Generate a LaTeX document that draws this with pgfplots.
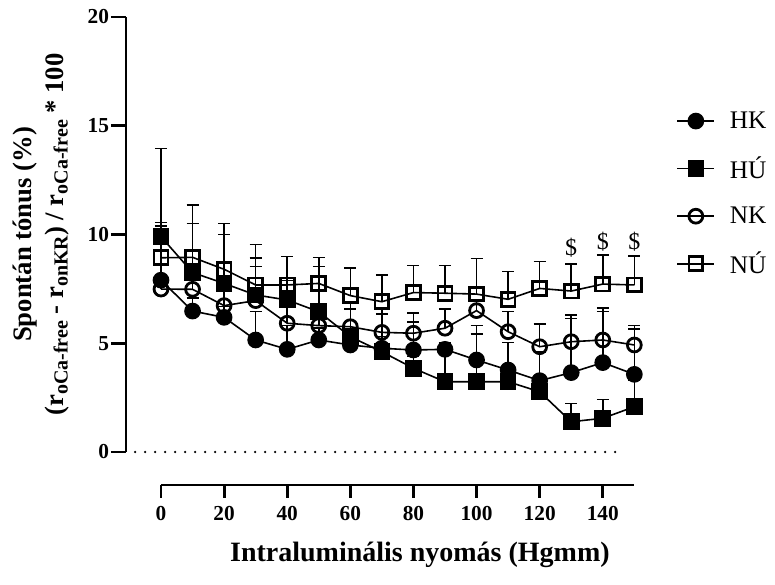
\documentclass[border=0pt]{standalone}
\usepackage{fontspec}
\setmainfont{Liberation Serif}
\usepackage{pgfplots}
\usepackage{pgfplotstable}
\pgfplotsset{compat=1.18}

% x  mean  upper SEM
\pgfplotstableread{
x y e
0 7.90 2.49
10 6.48 0.60
20 6.19 0.50
30 5.15 1.30
40 4.72 1.10
50 5.15 0.55
60 4.92 0.60
70 4.77 0.53
80 4.69 1.29
90 4.72 0.30
100 4.23 1.58
110 3.77 1.26
120 3.28 1.32
130 3.65 2.50
140 4.11 2.34
150 3.57 2.09
}\hk
\pgfplotstableread{
x y e
0 9.90 4.05
10 8.25 2.26
20 7.75 2.25
30 7.22 1.71
40 6.99 0.90
50 6.45 2.07
60 5.30 1.54
70 4.61 1.73
80 3.85 0.55
90 3.23 1.80
100 3.23 2.20
110 3.23 0.50
120 2.77 0.50
130 1.39 0.85
140 1.55 0.87
150 2.08 1.20
}\hu
\pgfplotstableread{
x y e
0 7.49 0.60
10 7.48 0.80
20 6.73 0.90
30 6.96 1.56
40 5.92 1.00
50 5.81 0.70
60 5.76 0.81
70 5.50 1.06
80 5.46 0.92
90 5.69 0.88
100 6.50 0.50
110 5.53 0.92
120 4.84 1.05
130 5.07 1.23
140 5.15 1.48
150 4.92 0.89
}\nk
\pgfplotstableread{
x y e
0 8.93 1.61
10 8.95 2.41
20 8.40 2.10
30 7.68 1.87
40 7.68 1.32
50 7.75 1.20
60 7.19 1.28
70 6.91 1.23
80 7.33 1.25
90 7.30 1.28
100 7.26 1.63
110 7.02 1.27
120 7.52 1.23
130 7.40 1.24
140 7.72 1.34
150 7.68 1.33
}\nu

\pgfplotsset{
  ser/.style={black, line width=1.2pt, mark size=5.2pt,
    mark options={solid, line width=2.1pt},
    error bars/y dir=plus, error bars/y explicit, error bars/error mark=-,
    error bars/error bar style={line width=1.1pt},
    error bars/error mark options={rotate=90, line width=1.1pt, mark size=4.5pt, black}}
}
\newcommand{\sbs}[1]{\raisebox{-0.35ex}{\fontsize{15}{15}\selectfont #1}}

\begin{document}
\begin{tikzpicture}
\useasboundingbox (-120.75pt,-99.75pt) rectangle (460.5pt,339pt);
% data
\begin{axis}[
  at={(0,0)}, anchor=south west,
  scale only axis, width=355pt, height=326.25pt,
  xmin=0, xmax=150, ymin=0, ymax=20,
  hide axis, clip=false,
  legend style={draw=none, fill=none, at={(rel axis cs:1.080,0.795)}, anchor=north west,
    font=\fontsize{19}{19}\selectfont, row sep=15.8pt,
    /tikz/every odd column/.append style={column sep=9pt}},
  legend cell align=left,
  legend image code/.code={\draw[mark repeat=2,mark phase=2,#1] plot coordinates {(0cm,0cm)(0.49cm,0cm)(0.98cm,0cm)};},
]
\addplot[line width=2pt, line cap=round, dash pattern=on 0pt off 7.5pt, forget plot]
  coordinates {(-8.2,0) (147,0)};

\addplot[ser, mark=*] table[x=x, y=y, y error=e] {\hk};
\addlegendentry{HK}
\addplot[ser, mark=square*] table[x=x, y=y, y error=e] {\hu};
\addlegendentry{HÚ}
\addplot[ser, mark=o] table[x=x, y=y, y error=e] {\nk};
\addlegendentry{NK}
\addplot[ser, mark=square] table[x=x, y=y, y error=e] {\nu};
\addlegendentry{NÚ}

\addplot[draw=none, mark=none, forget plot, nodes near coords={\$},
  every node near coord/.style={anchor=center, font=\fontsize{18}{18}\selectfont}]
  coordinates {(130,9.37) (140,9.67) (150,9.66)};
\end{axis}

% offset y axis
\begin{axis}[
  at={(-26.25pt,0)}, anchor=south west,
  scale only axis, width=10pt, height=326.25pt,
  xmin=0, xmax=1, ymin=0, ymax=20,
  axis x line=none, axis y line*=left,
  axis line style={line width=2.2pt, -},
  ytick={0,5,10,15,20},
  tick align=outside, major tick length=11.25pt,
  tick style={line width=2.2pt, black},
  yticklabel style={font=\bfseries\fontsize{16}{16}\selectfont, xshift=2pt},
  /pgf/number format/assume math mode=true,
  ylabel={Spontán tónus (\%)\\(r\sbs{oCa-free} - r\sbs{onKR}) / r\sbs{oCa-free} * 100},
  every axis y label/.style={at={(axis description cs:-6.375,0.5)}, rotate=90,
    anchor=center, align=center, font=\bfseries\fontsize{20}{24}\selectfont},
]
\end{axis}

% offset x axis
\begin{axis}[
  at={(0,-24.75pt)}, anchor=south west,
  scale only axis, width=355pt, height=20pt,
  xmin=0, xmax=150, ymin=0, ymax=1,
  axis y line=none, axis x line*=bottom,
  axis line style={line width=2.2pt, -},
  xtick={0,20,...,140},
  tick align=outside, major tick length=9.75pt,
  tick style={line width=2.2pt, black},
  xticklabel style={font=\bfseries\fontsize{16}{16}\selectfont, yshift=-3pt},
  /pgf/number format/assume math mode=true,
  xlabel={Intraluminális nyomás (Hgmm)},
  every axis x label/.style={at={(axis description cs:0.547,0)}, anchor=center,
    yshift=-52.5pt, font=\bfseries\fontsize{21}{21}\selectfont},
]
\end{axis}
\end{tikzpicture}
\end{document}
